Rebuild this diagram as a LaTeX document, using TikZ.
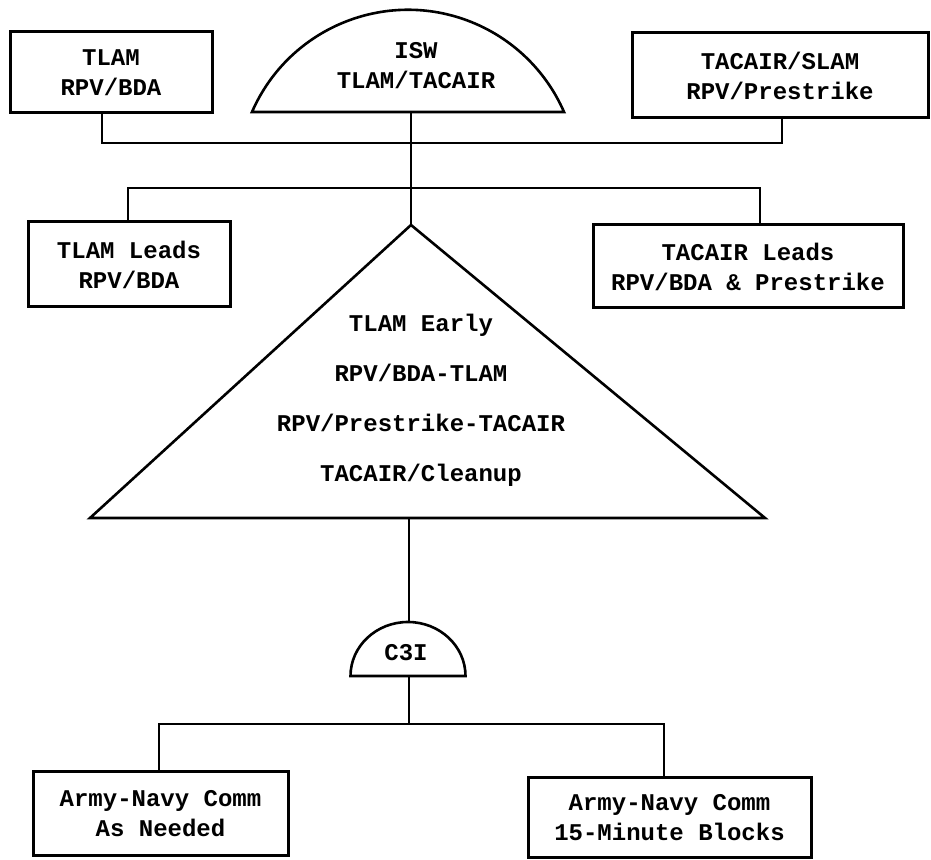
\documentclass[tikz,border=0pt]{standalone}
\usepackage{fontspec}
\setmonofont{Liberation Mono}
\begin{document}
\begin{tikzpicture}[x=1pt,y=1pt,
  lbl/.style={font=\ttfamily\bfseries\fontsize{24}{30}\selectfont, align=center, inner sep=0pt},
  boxnode/.style={draw, line width=3pt, rectangle, align=center, inner sep=0pt,
     font=\ttfamily\bfseries\fontsize{24}{30}\selectfont},
  conn/.style={line width=2.8pt, line join=miter},
  shapeline/.style={line width=2.6pt, line join=miter}]
\useasboundingbox (0,0) rectangle (931,859);
\fill[white] (0,0) rectangle (931,859);

% top row
\node[boxnode, minimum width=202, minimum height=81] (A) at (111,786.5) {TLAM\\RPV/BDA};
\node[boxnode, minimum width=296, minimum height=85] (C) at (780,783.5) {TACAIR/SLAM\\RPV/Prestrike};
\draw[shapeline] (252,747) arc[start angle=156.45, end angle=23.55, radius=170.2] -- cycle;
\node[lbl] (isw) at (416,793) {ISW\\TLAM/TACAIR};
\coordinate (iswbase) at (411,747);

% second row
\node[boxnode, minimum width=202, minimum height=85] (D) at (129,594.5) {TLAM Leads\\RPV/BDA};
\node[boxnode, minimum width=310, minimum height=83] (E) at (748,592.5) {TACAIR Leads\\RPV/BDA \& Prestrike};

% triangle
\coordinate (apex) at (411,634);
\coordinate (triL) at (90,341);
\coordinate (triR) at (765,341);
\coordinate (tribase) at (409,341);
\draw[shapeline] (apex) -- (triR) -- (triL) -- cycle;
\node[lbl, font=\ttfamily\bfseries\fontsize{24}{50}\selectfont] (tri) at (421,459)
  {TLAM Early\\RPV/BDA-TLAM\\RPV/Prestrike-TACAIR\\TACAIR/Cleanup};

% C3I
\draw[shapeline] (350.5,183) arc[start angle=180, end angle=0, x radius=57.5, y radius=54] -- cycle;
\coordinate (c3itop) at (409,237);
\coordinate (c3ibase) at (409,183);
\node[lbl] (c3i) at (406,206) {C3I};

% bottom boxes
\node[boxnode, minimum width=255, minimum height=83] (F) at (160.5,45.5) {Army-Navy Comm\\As Needed};
\node[boxnode, minimum width=283, minimum height=79] (G) at (669.5,41.5) {Army-Navy Comm\\15-Minute Blocks};

% buses
\coordinate (b1L) at (102,716);
\coordinate (b1R) at (782,716);
\coordinate (b1M) at (411,716);
\coordinate (b2L) at (128,671);
\coordinate (b2R) at (760,671);
\coordinate (b3L) at (159,135);
\coordinate (b3R) at (664,135);
\coordinate (b3M) at (409,135);

\draw[conn] (A.south -| b1L) -- (b1L) -- (b1R) -- (C.south -| b1R);
\draw[conn] (iswbase) -- (apex);
\draw[conn] (D.north -| b2L) -- (b2L) -- (b2R) -- (E.north -| b2R);
\draw[conn] (tribase) -- (c3itop);
\draw[conn] (c3ibase) -- (b3M);
\draw[conn] (F.north -| b3L) -- (b3L) -- (b3R) -- (G.north -| b3R);
\end{tikzpicture}
\end{document}
